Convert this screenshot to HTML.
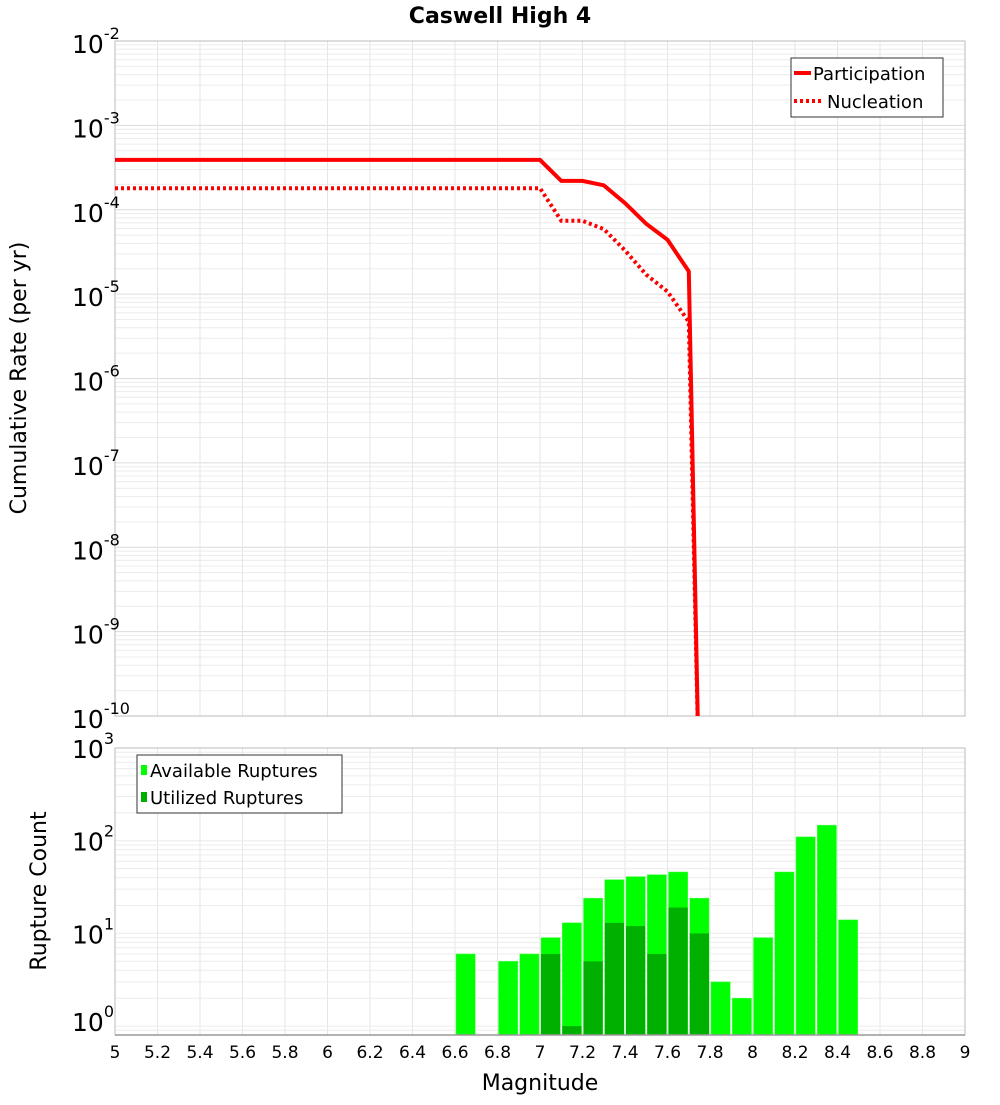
<!DOCTYPE html>
<html><head><meta charset="utf-8"><style>
body{margin:0;background:#fff;font-family:"Liberation Sans","DejaVu Sans",sans-serif}
</style></head><body>
<svg id="c" width="1000" height="1100" xmlns="http://www.w3.org/2000/svg" style="font-family:'DejaVu Sans','Liberation Sans',sans-serif">
<text x="500" y="23" text-anchor="middle" font-size="22" font-weight="bold">Caswell High 4</text>
<g id="topg"></g>
<g id="botg"></g>
<text transform="translate(26,378) rotate(-90)" text-anchor="middle" font-size="22">Cumulative Rate (per yr)</text>
<text transform="translate(46,891) rotate(-90)" text-anchor="middle" font-size="22">Rupture Count</text>
<text x="540" y="1090" text-anchor="middle" font-size="22">Magnitude</text>
</svg>
<script>
const mags=[5,5.1,5.2,5.3,5.4,5.5,5.6,5.7,5.8,5.9,6,6.1,6.2,6.3,6.4,6.5,6.6,6.7,6.8,6.9,7,7.1,7.2,7.3,7.4,7.5,7.6,7.7,7.75];
const partRates=[3.9e-4,3.9e-4,3.9e-4,3.9e-4,3.9e-4,3.9e-4,3.9e-4,3.9e-4,3.9e-4,3.9e-4,3.9e-4,3.9e-4,3.9e-4,3.9e-4,3.9e-4,3.9e-4,3.9e-4,3.9e-4,3.9e-4,3.9e-4,3.9e-4,2.2e-4,2.2e-4,1.95e-4,1.2e-4,6.8e-5,4.4e-5,1.86e-5,1e-11];
const nuclRates=[1.8e-4,1.8e-4,1.8e-4,1.8e-4,1.8e-4,1.8e-4,1.8e-4,1.8e-4,1.8e-4,1.8e-4,1.8e-4,1.8e-4,1.8e-4,1.8e-4,1.8e-4,1.8e-4,1.8e-4,1.8e-4,1.8e-4,1.8e-4,1.8e-4,7.4e-5,7.4e-5,5.9e-5,3.3e-5,1.7e-5,1.07e-5,4.7e-6,1e-11];
const binStarts=[6.6,6.8,6.9,7.0,7.1,7.2,7.3,7.4,7.5,7.6,7.7,7.8,7.9,8.0,8.1,8.2,8.3,8.4];
const availCounts=[6,5,6,9,13,24,38,41,43,46,24,3,2,9,46,110,147,14];
const usedCounts=[0,0,0,6,1,5,13,12,6,19,10,0,0,0,0,0,0,0];
const xTicks=[5,5.2,5.4,5.6,5.8,6,6.2,6.4,6.6,6.8,7,7.2,7.4,7.6,7.8,8,8.2,8.4,8.6,8.8,9];

const NS='http://www.w3.org/2000/svg';
const L=115,R=965,T1=41,B1=716,T2=748,B2=1035;
const X=m=>L+(m-5)/4*(R-L);
const Y1=v=>T1+(-2-Math.log10(v))*(B1-T1)/8;
const Y2=v=>T2+(3-Math.log10(v))*92.7;
function mk(p,tag,a,txt){const e=document.createElementNS(NS,tag);for(const k in a)e.setAttribute(k,a[k]);if(txt!=null)e.textContent=txt;p.appendChild(e);return e;}
const topG=document.getElementById('topg'),botG=document.getElementById('botg');
const defs=mk(document.getElementById('c'),'defs',{});
const cp=mk(defs,'clipPath',{id:'cp1'});mk(cp,'rect',{x:L,y:T1,width:R-L,height:B1-T1});
const cp2=mk(defs,'clipPath',{id:'cp2'});mk(cp2,'rect',{x:L,y:T2,width:R-L,height:B2-T2});
for(let d=-10;d<-2;d++){for(let k=1;k<10;k++){const y=Y1(k*Math.pow(10,d));const g=mk(topG,'line',{x1:L,x2:R,y1:y,y2:y,stroke:k==1?'#dcdcdc':'#ececec','stroke-width':1});

}}
xTicks.forEach(m=>{const g=mk(topG,'line',{x1:X(m),x2:X(m),y1:T1,y2:B1,stroke:'#e6e6e6'});
 
 
 const h=mk(botG,'line',{x1:X(m),x2:X(m),y1:T2,y2:B2,stroke:'#e6e6e6'});
 
 
 const t=mk(botG,'text',{x:X(m),y:1058,'text-anchor':'middle','font-size':17},String(m));
 
 });
mk(topG,'rect',{x:L,y:T1,width:R-L,height:B1-T1,fill:'none',stroke:'#bbb'});
for(let d=-10;d<=-2;d++){const y=Y1(Math.pow(10,d));const t=mk(topG,'text',{x:72,y:y+12,'font-size':25});
 
 
 t.appendChild(document.createTextNode('10'));mk(t,'tspan',{dy:-14,'font-size':16},String(d));}
function path(rates){return rates.map((r,i)=>(i?'L':'M')+X(mags[i]).toFixed(1)+','+Y1(r).toFixed(1)).join(' ');}
const p1=mk(topG,'path',{d:path(partRates),fill:'none',stroke:'#ff0000','stroke-width':4,'clip-path':'url(#cp1)'});


const p2=mk(topG,'path',{d:path(nuclRates),fill:'none',stroke:'#ff0000','stroke-width':4,'stroke-dasharray':'3,3','clip-path':'url(#cp1)'});


const lg=mk(topG,'g',{});


mk(lg,'rect',{x:791,y:58,width:152,height:59,fill:'#fff',stroke:'#333'});
mk(lg,'line',{x1:794,x2:811,y1:73,y2:73,stroke:'#f00','stroke-width':4});
mk(lg,'text',{x:813,y:80,'font-size':18},'Participation');
mk(lg,'line',{x1:794,x2:822,y1:101,y2:101,stroke:'#f00','stroke-width':4,'stroke-dasharray':'3,3'});
mk(lg,'text',{x:827,y:108,'font-size':18},'Nucleation');
for(let d=-1;d<3;d++){for(let k=1;k<10;k++){const v=k*Math.pow(10,d);const y=Y2(v);if(y>B2||y<T2)continue;const g=mk(botG,'line',{x1:L,x2:R,y1:y,y2:y,stroke:'#ececec'});

}}
for(let d=0;d<=3;d++){const y=Y2(Math.pow(10,d));const t=mk(botG,'text',{x:72,y:y+(d==0?5:10),'font-size':25});
 
 
 t.appendChild(document.createTextNode('10'));mk(t,'tspan',{dy:-14,'font-size':16},String(d));}
const bw=X(5.1)-X(5);
binStarts.forEach((m,i)=>{const x=X(m)+1,w=bw-2;
 const y=Y2(availCounts[i]);const b=mk(botG,'rect',{x:x,y:y,width:w,height:B2-y,fill:'#00ff00',stroke:'#5f5',"stroke-width":0.5,'clip-path':'url(#cp2)'});
 
 
 if(usedCounts[i]>0){const y2=Y2(usedCounts[i]);const u=mk(botG,'rect',{x:x,y:y2,width:w,height:B2-y2,fill:'#00b000','clip-path':'url(#cp2)'});
 
 }});
mk(botG,'rect',{x:L,y:T2,width:R-L,height:B2-T2,fill:'none',stroke:'#bbb'});
mk(botG,'line',{x1:L,x2:R,y1:B2,y2:B2,stroke:'#999','stroke-width':1.5});
const lg2=mk(botG,'g',{});


mk(lg2,'rect',{x:137,y:755,width:205,height:58,fill:'#fff',stroke:'#333'});
mk(lg2,'rect',{x:141,y:765,width:6,height:10,fill:'#00ff00'});
mk(lg2,'text',{x:150,y:777,'font-size':18},'Available Ruptures');
mk(lg2,'rect',{x:141,y:792,width:6,height:10,fill:'#00b000'});
mk(lg2,'text',{x:150,y:804,'font-size':18},'Utilized Ruptures');
</script>
</body></html>
